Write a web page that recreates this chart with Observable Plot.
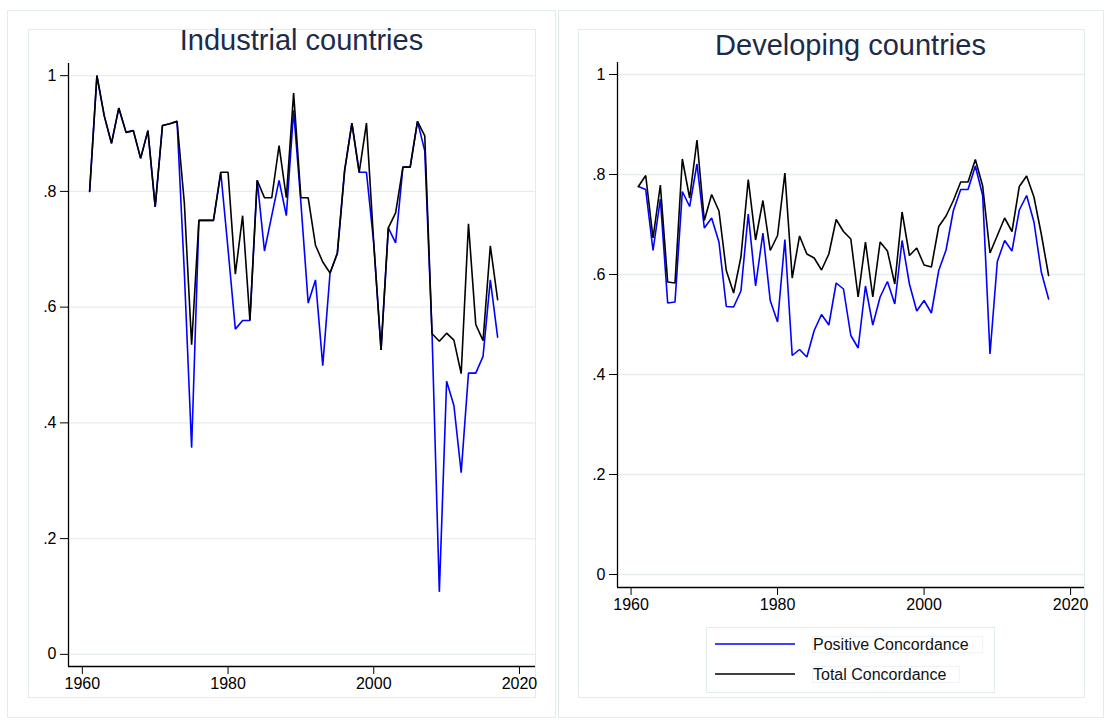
<!DOCTYPE html>
<html>
<head>
<meta charset="utf-8">
<script src="https://cdn.jsdelivr.net/npm/d3@7"></script>
<script src="https://cdn.jsdelivr.net/npm/@observablehq/plot@0.6"></script>
<style>
  html, body { margin: 0; padding: 0; background: #fff; }
  body { width: 1109px; height: 727px; position: relative; overflow: hidden;
         font-family: "Liberation Sans", Arial, sans-serif; }
  .box { position: absolute; border: 1px solid #e2ecec; box-sizing: border-box; }
  .title { position: absolute; text-align: center; font-size: 29px; line-height: 29px;
           color: #1c2b4b; white-space: nowrap; }
  .plot { position: absolute; }
</style>
</head>
<body>
<div class="box" style="left:7px;top:10px;width:549px;height:708px;"></div>
<div class="box" style="left:28px;top:29px;width:508px;height:669px;"></div>
<div class="box" style="left:558px;top:10px;width:546px;height:708px;"></div>
<div class="box" style="left:578px;top:29px;width:507px;height:669px;"></div>

<div class="title" style="left:68px;width:467px;top:26px;">Industrial countries</div>
<div class="title" style="left:617px;width:467px;top:31px;">Developing countries</div>

<div id="left" class="plot" style="left:29px;top:55px;"></div>
<div id="right" class="plot" style="left:578px;top:55px;"></div>

<div class="box" style="left:706px;top:627px;width:289px;height:66px;"></div>
<svg style="position:absolute;left:700px;top:620px;" width="300" height="80">
  <line x1="15" x2="95" y1="24" y2="24" stroke="#0000ff" stroke-width="1.6"/>
  <line x1="15" x2="95" y1="54" y2="54" stroke="#000" stroke-width="1.6"/>
  <rect x="112.5" y="16.5" width="170" height="16" fill="none" stroke="#eef4f4"/>
  <rect x="112.5" y="46.5" width="147" height="16" fill="none" stroke="#eef4f4"/>
  <text x="113" y="30" font-size="16" font-family="Liberation Sans, Arial, sans-serif" fill="#111">Positive Concordance</text>
  <text x="113" y="60" font-size="16" font-family="Liberation Sans, Arial, sans-serif" fill="#111">Total Concordance</text>
</svg>

<script>
const years = [1961,1962,1963,1964,1965,1966,1967,1968,1969,1970,
  1971,1972,1973,1974,1975,1976,1977,1978,1979,1980,
  1981,1982,1983,1984,1985,1986,1987,1988,1989,1990,
  1991,1992,1993,1994,1995,1996,1997,1998,1999,2000,
  2001,2002,2003,2004,2005,2006,2007,2008,2009,2010,
  2011,2012,2013,2014,2015,2016,2017];

const industrialPositive = [0.800,1.000,0.931,0.883,0.944,0.902,0.905,0.857,0.905,0.773,
  0.914,0.917,0.921,0.660,0.357,0.750,0.750,0.750,0.833,0.700,
  0.562,0.577,0.577,0.819,0.697,0.758,0.819,0.758,0.940,0.780,
  0.607,0.647,0.499,0.659,0.693,0.836,0.918,0.833,0.833,0.710,
  0.526,0.737,0.711,0.842,0.842,0.921,0.870,0.554,0.108,0.472,
  0.430,0.314,0.486,0.486,0.515,0.647,0.548];

const industrialTotal = [0.800,1.000,0.931,0.883,0.944,0.902,0.905,0.857,0.905,0.773,
  0.914,0.917,0.921,0.780,0.535,0.750,0.750,0.750,0.833,0.833,
  0.657,0.758,0.577,0.819,0.789,0.789,0.879,0.789,0.970,0.789,
  0.789,0.707,0.678,0.659,0.693,0.836,0.918,0.833,0.918,0.710,
  0.526,0.737,0.763,0.842,0.842,0.921,0.896,0.554,0.541,0.555,
  0.543,0.485,0.744,0.570,0.542,0.706,0.613];

const developingPositive = [0.776,0.770,0.648,0.751,0.543,0.545,0.766,0.736,0.821,0.693,
  0.713,0.665,0.536,0.535,0.567,0.721,0.577,0.683,0.548,0.505,
  0.670,0.438,0.450,0.435,0.488,0.520,0.499,0.583,0.571,0.478,
  0.453,0.577,0.499,0.555,0.586,0.541,0.668,0.581,0.527,0.548,
  0.523,0.608,0.649,0.728,0.770,0.770,0.817,0.758,0.441,0.626,
  0.668,0.647,0.729,0.758,0.705,0.605,0.551];

const developingTotal = [0.776,0.798,0.673,0.779,0.585,0.583,0.831,0.753,0.869,0.708,
  0.760,0.727,0.608,0.563,0.635,0.790,0.669,0.748,0.648,0.678,
  0.803,0.593,0.677,0.641,0.633,0.609,0.641,0.710,0.686,0.671,
  0.555,0.665,0.555,0.665,0.647,0.581,0.725,0.638,0.653,0.619,
  0.615,0.696,0.717,0.748,0.785,0.785,0.830,0.777,0.643,0.678,
  0.713,0.686,0.776,0.797,0.755,0.681,0.598];

const yTicks = [0, 0.2, 0.4, 0.6, 0.8, 1];
const xTicks = [1960, 1980, 2000, 2020];

const fmt = v => v === 0 ? "0" : v === 1 ? "1" : d3.format(".1f")(v).replace(/^0/, "");
const toRows = vals => years.map((year, i) => ({year, value: vals[i]}));

function panel(pos, tot, {height, marginTop, xdom, ydom}) {
  return Plot.plot({
    width: 507, height, marginTop, marginBottom: 31, marginLeft: 39, marginRight: 1,
    style: {fontFamily: "Liberation Sans, Arial, sans-serif", fontSize: "16px", color: "#000", background: "transparent", overflow: "visible"},
    x: {domain: xdom},
    y: {domain: ydom},
    marks: [
      Plot.gridY(yTicks, {stroke: "#e6eef0", strokeOpacity: 1, strokeWidth: 1.4}),
      Plot.line(toRows(pos), {x: "year", y: "value", stroke: "#0000ff", strokeWidth: 1.6, strokeLinejoin: "miter"}),
      Plot.line(toRows(tot), {x: "year", y: "value", stroke: "#000000", strokeWidth: 1.6, strokeLinejoin: "miter"}),
      Plot.axisY(yTicks, {tickSize: 8, tickPadding: 4, tickFormat: fmt, label: null, fontSize: 16, stroke: "#000"}),
      Plot.axisX(xTicks, {tickSize: 8, tickPadding: 3, tickFormat: d => String(d), label: null, fontSize: 16, stroke: "#000"}),
      Plot.ruleX([xdom[0]], {stroke: "#000", strokeWidth: 1.3}),
      Plot.ruleY([ydom[0]], {stroke: "#000", strokeWidth: 1.3})
    ]
  });
}

document.getElementById("left").append(panel(industrialPositive, industrialTotal, {
  height: 642, marginTop: 8, xdom: [1958.1, 2022.2], ydom: [-0.021, 1.021]
}));
document.getElementById("right").append(panel(developingPositive, developingTotal, {
  height: 563, marginTop: 7, xdom: [1958.15, 2021.9], ydom: [-0.026, 1.024]
}));
</script>
</body>
</html>
